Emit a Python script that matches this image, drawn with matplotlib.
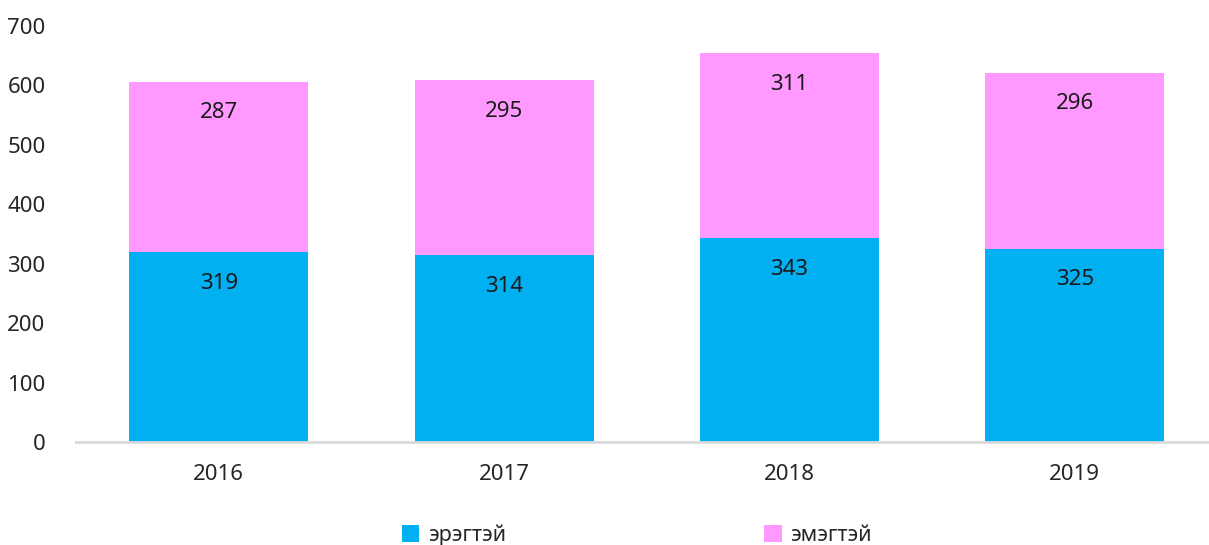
import matplotlib
matplotlib.use("Agg")
import matplotlib.pyplot as plt
from matplotlib.patches import Patch
import numpy as np

years = ["2016", "2017", "2018", "2019"]
male = [319, 314, 343, 325]
female = [287, 295, 311, 296]
series_names = ["эрэгтэй", "эмэгтэй"]
colors = ["#00B0F0", "#FF99FF"]

plt.rcParams['font.family'] = ['Noto Sans', 'DejaVu Sans']

W, H = 1209, 545
fig = plt.figure(figsize=(W / 100, H / 100), dpi=100)
ax = fig.add_axes([76 / W, 1 - 442 / H, (1209 - 76) / W, (442 - 26) / H])

x = np.arange(len(years))
bw = 0.627
ax.bar(x, male, bw, color=colors[0], zorder=2)
ax.bar(x, female, bw, bottom=male, color=colors[1], zorder=2)

for xi, m, f in zip(x, male, female):
    ax.annotate(str(m), (xi, m), xytext=(0, -31 * 0.72), textcoords='offset points',
                ha='center', va='center', fontsize=16, color='#1a1a1a')
    ax.annotate(str(f), (xi, m + f), xytext=(0, -31 * 0.72), textcoords='offset points',
                ha='center', va='center', fontsize=16, color='#1a1a1a')

ax.set_ylim(0, 700)
ax.set_yticks(range(0, 701, 100))
ax.set_xlim(-0.5, 3.47)
ax.set_xticks(x)
ax.set_xticklabels(years)
for s in ['top', 'right', 'left']:
    ax.spines[s].set_visible(False)
ax.spines['bottom'].set_color('#D9D9D9')
ax.spines['bottom'].set_linewidth(2)
ax.tick_params(axis='both', length=0, labelsize=16, colors='#262626')
ax.tick_params(axis='y', pad=22)
ax.tick_params(axis='x', pad=16)

handles = [Patch(facecolor=c, edgecolor='none') for c in colors]
leg = fig.legend(handles, series_names, loc='center', bbox_to_anchor=(637 / W, 1 - 535 / H),
                 ncol=2, frameon=False, fontsize=15.5, handlelength=0.8, handleheight=0.8,
                 handletextpad=0.4, columnspacing=12.0, labelcolor='#262626')

fig.savefig("out.png", dpi=100)
